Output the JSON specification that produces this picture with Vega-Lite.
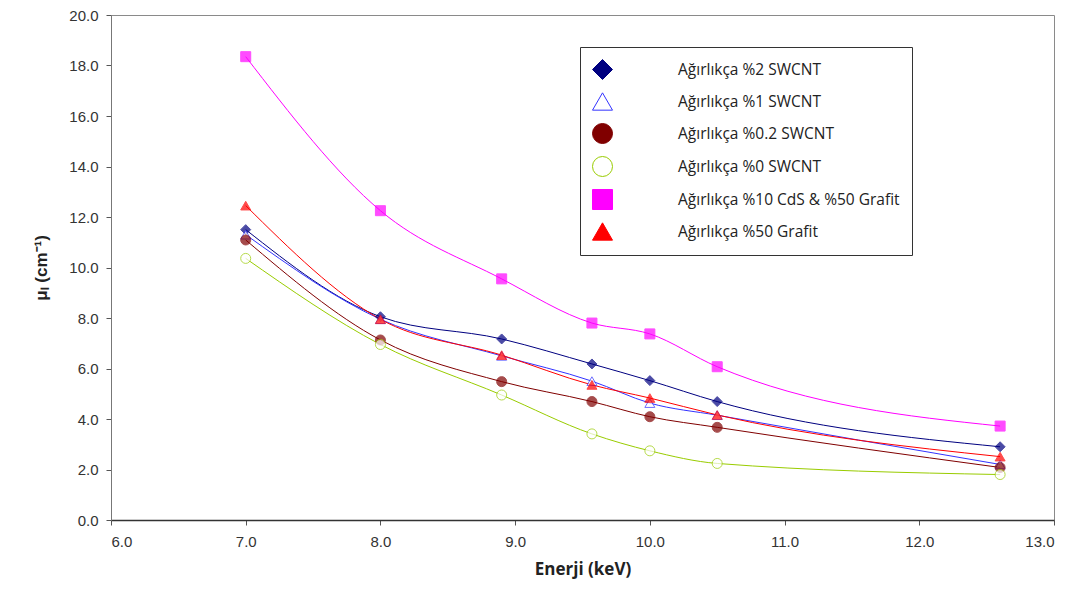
{
  "$schema": "https://vega.github.io/schema/vega-lite/v6.json",
  "width": 943,
  "height": 505,
  "autosize": "none",
  "padding": {"left": 111, "top": 15, "right": 25, "bottom": 78},
  "background": "white",
  "config": {
    "view": {"stroke": "#8a8a8a", "strokeWidth": 1},
    "axis": {"grid": false, "labelFont": "Liberation Sans", "labelFontSize": 15, "labelColor": "#333333", "titleFont": "Liberation Sans", "titleColor": "#222222", "tickColor": "#555555", "tickSize": 5},
    "legend": {"title": null, "orient": "none", "legendX": 469, "legendY": 32, "padding": 12, "strokeColor": "#333333", "fillColor": "white",
      "symbolSize": 400, "rowPadding": 8, "labelOffset": 65, "labelLimit": 500, "labelFont": "Open Sans", "labelFontSize": 15.5, "labelColor": "#222222", "symbolStrokeWidth": 1, "symbolOpacity": 1}
  },
  "data": {"values": [
    {"s": "Ağırlıkça %2 SWCNT", "e": 7.0, "mu": 11.5},
    {"s": "Ağırlıkça %2 SWCNT", "e": 8.0, "mu": 8.05},
    {"s": "Ağırlıkça %2 SWCNT", "e": 8.9, "mu": 7.17},
    {"s": "Ağırlıkça %2 SWCNT", "e": 9.57, "mu": 6.18},
    {"s": "Ağırlıkça %2 SWCNT", "e": 10.0, "mu": 5.52},
    {"s": "Ağırlıkça %2 SWCNT", "e": 10.5, "mu": 4.69},
    {"s": "Ağırlıkça %2 SWCNT", "e": 12.6, "mu": 2.9},
    {"s": "Ağırlıkça %1 SWCNT", "e": 7.0, "mu": 11.3},
    {"s": "Ağırlıkça %1 SWCNT", "e": 8.0, "mu": 7.95},
    {"s": "Ağırlıkça %1 SWCNT", "e": 8.9, "mu": 6.5},
    {"s": "Ağırlıkça %1 SWCNT", "e": 9.57, "mu": 5.5},
    {"s": "Ağırlıkça %1 SWCNT", "e": 10.0, "mu": 4.63},
    {"s": "Ağırlıkça %1 SWCNT", "e": 10.5, "mu": 4.15},
    {"s": "Ağırlıkça %1 SWCNT", "e": 12.6, "mu": 2.2},
    {"s": "Ağırlıkça %0.2 SWCNT", "e": 7.0, "mu": 11.09},
    {"s": "Ağırlıkça %0.2 SWCNT", "e": 8.0, "mu": 7.13},
    {"s": "Ağırlıkça %0.2 SWCNT", "e": 8.9, "mu": 5.48},
    {"s": "Ağırlıkça %0.2 SWCNT", "e": 9.57, "mu": 4.69},
    {"s": "Ağırlıkça %0.2 SWCNT", "e": 10.0, "mu": 4.09},
    {"s": "Ağırlıkça %0.2 SWCNT", "e": 10.5, "mu": 3.67},
    {"s": "Ağırlıkça %0.2 SWCNT", "e": 12.6, "mu": 2.08},
    {"s": "Ağırlıkça %0 SWCNT", "e": 7.0, "mu": 10.36},
    {"s": "Ağırlıkça %0 SWCNT", "e": 8.0, "mu": 6.95},
    {"s": "Ağırlıkça %0 SWCNT", "e": 8.9, "mu": 4.95},
    {"s": "Ağırlıkça %0 SWCNT", "e": 9.57, "mu": 3.41},
    {"s": "Ağırlıkça %0 SWCNT", "e": 10.0, "mu": 2.74},
    {"s": "Ağırlıkça %0 SWCNT", "e": 10.5, "mu": 2.24},
    {"s": "Ağırlıkça %0 SWCNT", "e": 12.6, "mu": 1.8},
    {"s": "Ağırlıkça %10 CdS & %50 Grafit", "e": 7.0, "mu": 18.35},
    {"s": "Ağırlıkça %10 CdS & %50 Grafit", "e": 8.0, "mu": 12.25},
    {"s": "Ağırlıkça %10 CdS & %50 Grafit", "e": 8.9, "mu": 9.55},
    {"s": "Ağırlıkça %10 CdS & %50 Grafit", "e": 9.57, "mu": 7.8},
    {"s": "Ağırlıkça %10 CdS & %50 Grafit", "e": 10.0, "mu": 7.37},
    {"s": "Ağırlıkça %10 CdS & %50 Grafit", "e": 10.5, "mu": 6.07},
    {"s": "Ağırlıkça %10 CdS & %50 Grafit", "e": 12.6, "mu": 3.72},
    {"s": "Ağırlıkça %50 Grafit", "e": 7.0, "mu": 12.45},
    {"s": "Ağırlıkça %50 Grafit", "e": 8.0, "mu": 7.95},
    {"s": "Ağırlıkça %50 Grafit", "e": 8.9, "mu": 6.53},
    {"s": "Ağırlıkça %50 Grafit", "e": 9.57, "mu": 5.35},
    {"s": "Ağırlıkça %50 Grafit", "e": 10.0, "mu": 4.83},
    {"s": "Ağırlıkça %50 Grafit", "e": 10.5, "mu": 4.16},
    {"s": "Ağırlıkça %50 Grafit", "e": 12.6, "mu": 2.51}
  ]},
  "encoding": {
    "x": {"field": "e", "type": "quantitative", "scale": {"domain": [6, 13], "nice": false, "zero": false},
      "axis": {"values": [6,7,8,9,10,11,12,13], "format": ".1f", "title": "Enerji (keV)", "titleFont": "Open Sans", "titleFontSize": 17, "titleFontWeight": "bold", "titlePadding": 12, "labelPadding": 9, "domainColor": "#333333", "domainWidth": 1.5}},
    "y": {"field": "mu", "type": "quantitative", "scale": {"domain": [0, 20], "nice": false},
      "axis": {"values": [0,2,4,6,8,10,12,14,16,18,20], "format": ".1f", "title": "μₗ (cm⁻¹)", "titleFontSize": 17, "titleFontWeight": "bold", "titlePadding": 18, "labelPadding": 8, "domainColor": "#777777", "domainWidth": 1}},
    "stroke": {"field": "s", "type": "nominal",
      "scale": {"domain": ["Ağırlıkça %2 SWCNT", "Ağırlıkça %1 SWCNT", "Ağırlıkça %0.2 SWCNT", "Ağırlıkça %0 SWCNT", "Ağırlıkça %10 CdS & %50 Grafit", "Ağırlıkça %50 Grafit"],
        "range": ["#000080", "#3333ff", "#800000", "#99cc00", "#ff00ff", "#ff0000"]},
      "legend": {"labelExpr": "datum.label + '\u00a0\u00a0\u00a0\u00a0\u00a0\u00a0'"}}
  },
  "layer": [
    {
      "mark": {"type": "line", "interpolate": "monotone", "strokeWidth": 1}
    },
    {
      "mark": {"type": "point", "filled": false, "size": 100, "strokeWidth": 1},
      "encoding": {
        "fill": {"field": "s", "type": "nominal",
          "scale": {"domain": ["Ağırlıkça %2 SWCNT", "Ağırlıkça %1 SWCNT", "Ağırlıkça %0.2 SWCNT", "Ağırlıkça %0 SWCNT", "Ağırlıkça %10 CdS & %50 Grafit", "Ağırlıkça %50 Grafit"],
            "range": ["#000080", "#ffffff", "#800000", "#ffffff", "#ff00ff", "#ff0000"]},
          "legend": {"labelExpr": "datum.label + '\u00a0\u00a0\u00a0\u00a0\u00a0\u00a0'"}},
        "shape": {"field": "s", "type": "nominal",
          "scale": {"domain": ["Ağırlıkça %2 SWCNT", "Ağırlıkça %1 SWCNT", "Ağırlıkça %0.2 SWCNT", "Ağırlıkça %0 SWCNT", "Ağırlıkça %10 CdS & %50 Grafit", "Ağırlıkça %50 Grafit"],
            "range": ["diamond", "triangle-up", "circle", "circle", "square", "triangle-up"]},
          "legend": {"labelExpr": "datum.label + '\u00a0\u00a0\u00a0\u00a0\u00a0\u00a0'",
            "encode": {"symbols": {"shape": {"value": {"expr": "['M2,0H5.8M3.9,-0.45L4.35,0L3.9,0.45L3.45,0Z','M2,0.2H5.8M3.9,-0.42L4.35,0.38L3.45,0.38Z','M2,0H5.8M3.5,0A0.4,0.4 0 1,0 4.3,0A0.4,0.4 0 1,0 3.5,0Z','M2,0H5.8M3.5,0A0.4,0.4 0 1,0 4.3,0A0.4,0.4 0 1,0 3.5,0Z','M2,0H5.8M3.52,-0.38H4.28V0.38H3.52Z','M2,0.2H5.8M3.9,-0.42L4.35,0.38L3.45,0.38Z'][indexof(['Ağırlıkça %2 SWCNT','Ağırlıkça %1 SWCNT','Ağırlıkça %0.2 SWCNT','Ağırlıkça %0 SWCNT','Ağırlıkça %10 CdS & %50 Grafit','Ağırlıkça %50 Grafit'], datum.value)]"}}}}}}
      }
    }
  ]
}
